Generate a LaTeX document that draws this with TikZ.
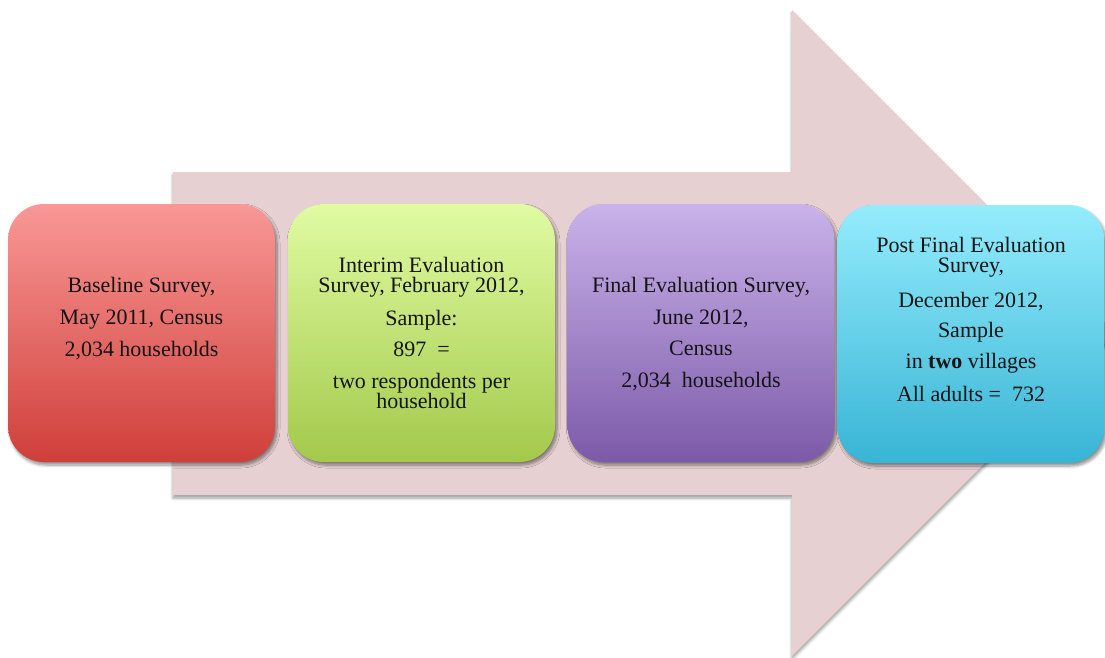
\documentclass[tikz,border=0pt]{standalone}
\usepackage{fontspec}
\setmainfont{Liberation Serif}
\usetikzlibrary{shadows.blur}

\definecolor{arrowfill}{HTML}{E6D0D1}
\definecolor{redtop}{HTML}{F99896}
\definecolor{redbot}{HTML}{CF3F3A}
\definecolor{greentop}{HTML}{E0FBA2}
\definecolor{greenbot}{HTML}{A3C94B}
\definecolor{purpletop}{HTML}{C9B3EA}
\definecolor{purplebot}{HTML}{7D5AA9}
\definecolor{cyantop}{HTML}{94ECFC}
\definecolor{cyanbot}{HTML}{38B4D5}
\definecolor{inktext}{HTML}{141414}

\tikzset{
  stage/.style={rounded corners=36pt, minimum width=267pt, minimum height=258pt,
    inner sep=0pt, blur shadow={shadow xshift=2pt, shadow yshift=-3pt,
    shadow blur radius=3pt, shadow blur steps=6, shadow opacity=45}},
  label/.style={align=center, text=inktext, inner sep=0pt,
    font=\fontsize{22}{20}\selectfont},
}

\begin{document}
\begin{tikzpicture}[x=1pt, y=-1pt]
\useasboundingbox (0,0) rectangle (1105,657);
\clip (0,0) rectangle (1105,657);

% big background arrow
\path[fill=arrowfill, blur shadow={shadow xshift=0pt, shadow yshift=-3pt,
      shadow blur radius=3pt, shadow blur steps=6, shadow opacity=40}]
  (173,172) -- (792,172) -- (792,10) -- (1115,333) -- (792,656)
  -- (792,495) -- (173,495) -- cycle;

% four survey stages
\node[stage, top color=redtop, bottom color=redbot] (s1) at (141.5,333) {};
\node[stage, top color=greentop, bottom color=greenbot] (s2) at (421.5,333) {};
\node[stage, top color=purpletop, bottom color=purplebot] (s3) at (701,333) {};
\node[stage, top color=cyantop, bottom color=cyanbot] (s4) at (971,334) {};

% stage texts
\node[label] (t1) at (141.5,319)
  {Baseline Survey,\\[11.5pt] May 2011, Census\\[11.5pt] 2,034 households};
\node[label] (t2) at (421.5,333)
  {Interim Evaluation\\ Survey, February 2012,\\[12pt] Sample:\\[11pt]
   897\ \ =\\[11.5pt] two respondents per\\ household};
\node[label] (t3) at (701,334)
  {Final Evaluation Survey,\\[11.5pt] June 2012,\\[11.5pt] Census\\[11.5pt]
   2,034\ \ households};
\node[label] (t4) at (971,319)
  {Post Final Evaluation\\ Survey,\\[14pt] December 2012,\\[10pt] Sample\\[11.5pt]
   in \textbf{two} villages\\[11.5pt] All adults =\ \ 732};
\end{tikzpicture}
\end{document}
